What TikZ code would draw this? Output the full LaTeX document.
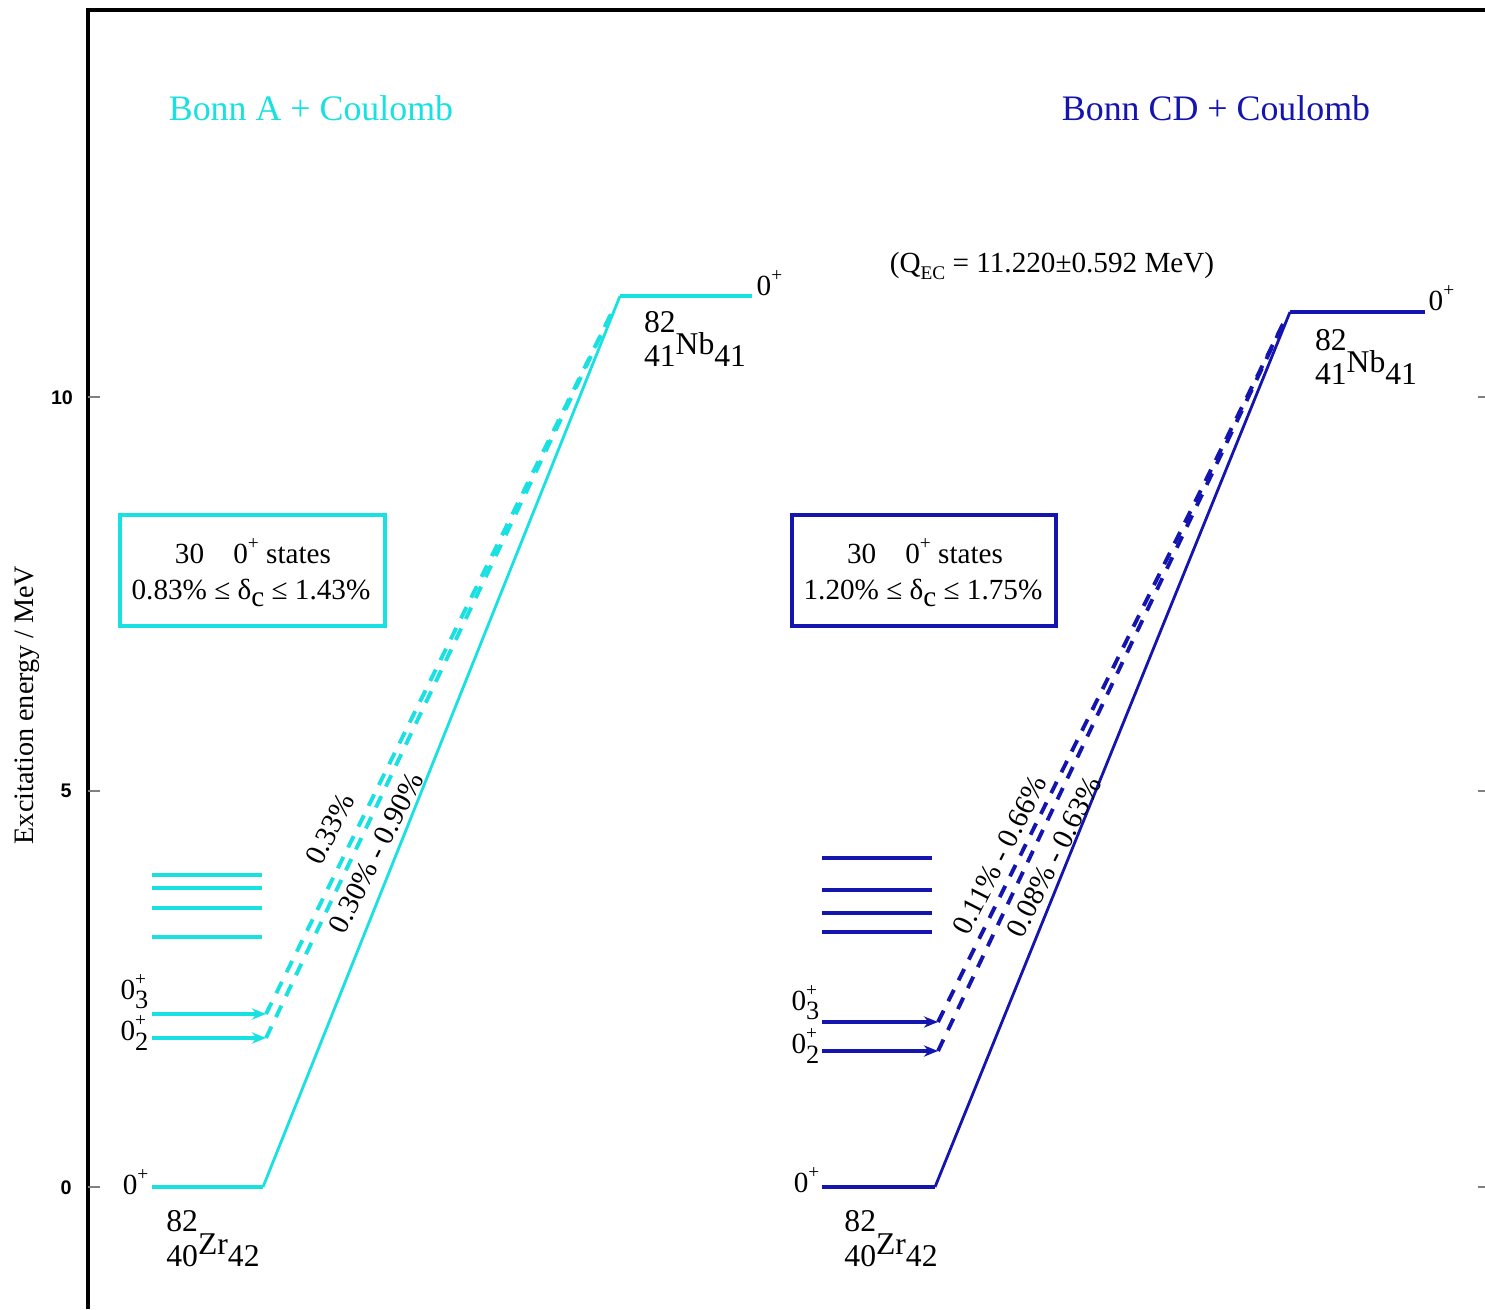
\documentclass[tikz,border=0pt]{standalone}
\usepackage{fontspec}
\setmainfont{Liberation Serif}
\setsansfont{Liberation Sans}
\usetikzlibrary{arrows.meta}

\definecolor{bonnA}{RGB}{25,225,225}
\definecolor{bonnCD}{RGB}{20,20,175}

% isotope: mass, charge, symbol, neutrons
\newcommand{\nuc}[4]{\makebox[0pt][l]{\raisebox{6.3pt}{#1}}\raisebox{-3.6pt}{#2}#3\raisebox{-3.6pt}{#4}}
% excited 0+ level label
\newcommand{\zlev}[1]{0\makebox[0pt][l]{\raisebox{4pt}{\fontsize{5.5}{6}\selectfont +}}\raisebox{-2.6pt}{\fontsize{7.5}{8}\selectfont #1}}
\newcommand{\zgs}{0\raisebox{4pt}{\fontsize{5.5}{6}\selectfont +}}

\begin{document}
\begin{tikzpicture}[x=0.01cm, y=-0.01cm,
    level/.style={line width=0.9pt},
    feed/.style={line width=0.9pt, -{Stealth[length=4pt,width=3.2pt]}},
    trans/.style={line width=0.8pt},
    dtrans/.style={line width=1.1pt, dash pattern=on 3.6pt off 3pt},
    txt/.style={font=\fontsize{8.3}{10}\selectfont, inner sep=0pt},
    iso/.style={font=\fontsize{9}{11}\selectfont, inner sep=0pt},
    tick/.style={font=\sffamily\bfseries\fontsize{5.6}{6}\selectfont, inner sep=0pt}]
    \useasboundingbox (0,0) rectangle (1485,1309);

    % =========================================================
    % ASSI
    % =========================================================
    \draw[line width=1pt] (88,1309) -- (88,10) -- (1485,10);
    \draw[gray, line width=0.3pt] (88,397) -- (100,397) (88,791) -- (100,791) (88,1187) -- (100,1187);
    \draw[gray, line width=0.3pt] (1478,397) -- (1485,397) (1478,791) -- (1485,791) (1478,1187) -- (1485,1187);
    \node[tick] (t10) at (62,398) {10};
    \node[tick] (t5) at (66,791) {5};
    \node[tick] (t0) at (66,1188) {0};
    \node[font=\fontsize{8}{10}\selectfont, rotate=90, inner sep=0pt] (ylab) at (27,705) {Excitation energy / MeV};

    % =========================================================
    % BONN A + COULOMB
    % =========================================================
    \begin{scope}[bonnA]
        \node[font=\fontsize{10.2}{12}\selectfont, inner sep=0pt] (titA) at (311,108) {Bonn A + Coulomb};

        % livelli di 82Zr
        \coordinate (zA0l) at (152,1187); \coordinate (zA0r) at (263,1187);
        \coordinate (zA2l) at (152,1038); \coordinate (zA2r) at (266,1038);
        \coordinate (zA3l) at (152,1014); \coordinate (zA3r) at (266,1014);
        \draw[level] (zA0l) -- (zA0r);
        \draw[feed] (zA2l) -- (zA2r);
        \draw[feed] (zA3l) -- (zA3r);
        \foreach \y in {875,888,908,937}
            \draw[level] (152,\y) -- (262,\y);

        % livello di 82Nb
        \coordinate (nA0l) at (620,296); \coordinate (nA0r) at (752,296);
        \coordinate (nAin) at (612,312);
        \draw[level] (nA0l) -- (nA0r);

        % transizioni
        \draw[trans] (zA0r) -- (nA0l);
        \draw[dtrans] (zA3r) -- (nAin);
        \draw[dtrans] (zA2r) -- (nAin);

        % riquadro
        \draw[line width=0.9pt] (120,515) rectangle (385,626);
    \end{scope}
    \node[txt] (boxA1) at (253,551) {30\quad \zgs{} states};
    \node[txt] (boxA2) at (251,593) {0.83\% ≤ δ\raisebox{-2.2pt}{c} ≤ 1.43\%};

    \node[txt, anchor=east] (gsA) at (149,1182) {\zgs};
    \node[txt, anchor=east] (l2A) at (149,1033) {\zlev{2}};
    \node[txt, anchor=east] (l3A) at (149,992) {\zlev{3}};
    \node[txt, anchor=west] (topA) at (756,283) {\zgs};
    \node[iso] (zrA) at (213,1239) {\nuc{82}{40}{Zr}{42}};
    \node[iso] (nbA) at (695,339) {\nuc{82}{41}{Nb}{41}};

    \node[txt, rotate=63] (pA1) at (330,829) {0.33\%};
    \node[txt, rotate=63] (pA2) at (376,853) {0.30\% - 0.90\%};

    % =========================================================
    % BONN CD + COULOMB
    % =========================================================
    \begin{scope}[bonnCD]
        \node[font=\fontsize{10.2}{12}\selectfont, inner sep=0pt] (titB) at (1216,108) {Bonn CD + Coulomb};

        % livelli di 82Zr
        \coordinate (zB0l) at (822,1187); \coordinate (zB0r) at (935,1187);
        \coordinate (zB2l) at (822,1051); \coordinate (zB2r) at (938,1051);
        \coordinate (zB3l) at (822,1022); \coordinate (zB3r) at (938,1022);
        \draw[level] (zB0l) -- (zB0r);
        \draw[feed] (zB2l) -- (zB2r);
        \draw[feed] (zB3l) -- (zB3r);
        \foreach \y in {858,890,913,932}
            \draw[level] (822,\y) -- (932,\y);

        % livello di 82Nb
        \coordinate (nB0l) at (1290,312); \coordinate (nB0r) at (1425,312);
        \coordinate (nBin) at (1283,324);
        \draw[level] (nB0l) -- (nB0r);

        % transizioni
        \draw[trans] (zB0r) -- (nB0l);
        \draw[dtrans] (zB3r) -- (nBin);
        \draw[dtrans] (zB2r) -- (nBin);

        % riquadro
        \draw[line width=0.9pt] (792,515) rectangle (1056,626);
    \end{scope}
    \node[txt] (boxB1) at (925,551) {30\quad \zgs{} states};
    \node[txt] (boxB2) at (923,593) {1.20\% ≤ δ\raisebox{-2.2pt}{c} ≤ 1.75\%};

    \node[txt, anchor=east] (gsB) at (820,1180) {\zgs};
    \node[txt, anchor=east] (l2B) at (820,1046) {\zlev{2}};
    \node[txt, anchor=east] (l3B) at (820,1003) {\zlev{3}};
    \node[txt, anchor=west] (topB) at (1428,298) {\zgs};
    \node[iso] (zrB) at (891,1239) {\nuc{82}{40}{Zr}{42}};
    \node[iso] (nbB) at (1366,357) {\nuc{82}{41}{Nb}{41}};

    \node[txt] (qec) at (1052,266) {(Q\raisebox{-2pt}{\fontsize{5.5}{6}\selectfont EC} = 11.220±0.592 MeV)};

    \node[txt, rotate=63] (pB1) at (1000,855) {0.11\% - 0.66\%};
    \node[txt, rotate=63] (pB2) at (1054,857) {0.08\% - 0.63\%};
\end{tikzpicture}
\end{document}
